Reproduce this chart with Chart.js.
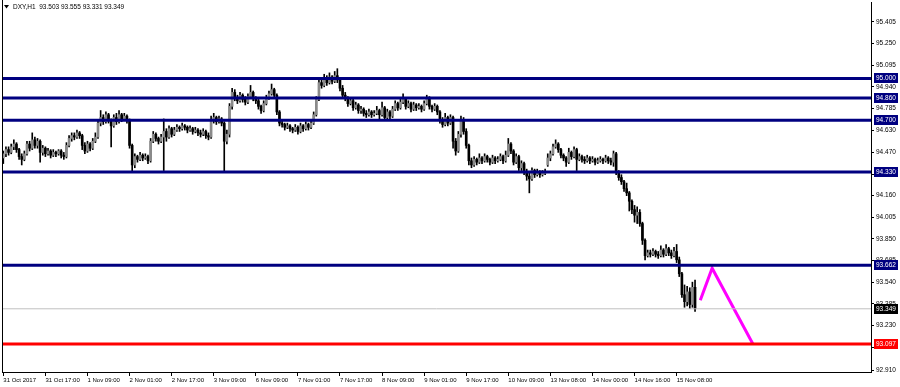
<!DOCTYPE html>
<html>
<head>
<meta charset="utf-8">
<title>DXY,H1</title>
<script src="https://cdn.jsdelivr.net/npm/chart.js@4.4.0/dist/chart.umd.min.js"></script>
<style>
html, body { margin: 0; padding: 0; background: #fff; }
canvas { display: block; }
</style>
</head>
<body>
<canvas id="dxyChart" width="900" height="387"></canvas>
<script>
// hourly candles, bar 0 = 31 Oct 2017
var openPrices = [
94.43,94.46,94.49,94.47,94.51,94.53,94.49,94.44,94.42,94.46,
94.53,94.50,94.56,94.52,94.55,94.47,94.50,94.46,94.48,94.45,
94.47,94.46,94.48,94.45,94.44,94.52,94.57,94.59,94.58,94.61,
94.59,94.52,94.48,94.53,94.50,94.55,94.58,94.68,94.72,94.69,
94.74,94.70,94.66,94.72,94.69,94.74,94.71,94.73,94.70,94.52,
94.38,94.44,94.42,94.45,94.43,94.44,94.41,94.55,94.60,94.57,
94.55,94.58,94.62,94.58,94.64,94.60,94.63,94.65,94.64,94.66,
94.65,94.63,94.64,94.62,94.63,94.61,94.60,94.62,94.59,94.58,
94.70,94.72,94.69,94.71,94.68,94.55,94.60,94.80,94.90,94.86,
94.84,94.88,94.85,94.83,94.87,94.90,94.86,94.84,94.80,94.77,
94.82,94.86,94.89,94.92,94.88,94.76,94.68,94.67,94.65,94.66,
94.64,94.63,94.65,94.62,94.66,94.64,94.67,94.65,94.68,94.74,
94.85,94.97,94.95,95.00,94.97,95.01,94.98,95.02,94.99,94.93,
94.88,94.86,94.82,94.84,94.79,94.81,94.77,94.78,94.75,94.74,
94.76,94.74,94.75,94.77,94.74,94.79,94.72,94.76,94.73,94.78,
94.82,94.79,94.83,94.85,94.80,94.82,94.78,94.81,94.79,94.80,
94.78,94.82,94.86,94.80,94.78,94.80,94.76,94.70,94.67,94.72,
94.68,94.72,94.55,94.48,94.60,94.70,94.62,94.52,94.41,94.38,
94.42,94.40,94.43,94.41,94.44,94.42,94.40,94.43,94.41,94.42,
94.44,94.41,94.45,94.53,94.48,94.40,94.44,94.36,94.39,94.33,
94.30,94.28,94.34,94.31,94.33,94.31,94.32,94.38,94.43,94.46,
94.51,94.53,94.49,94.45,94.43,94.40,94.47,94.44,94.49,94.42,
94.44,94.42,94.41,94.43,94.41,94.42,94.40,94.41,94.42,94.41,
94.43,94.41,94.40,94.46,94.33,94.29,94.26,94.21,94.18,94.12,
94.06,94.02,94.04,93.96,93.84,93.73,93.75,93.74,93.76,93.74,
93.73,93.77,93.74,93.78,93.75,93.73,93.76,93.70,93.60,93.45,
93.40,93.47,93.38,93.503
];
var highPrices = [
94.48,94.51,94.51,94.53,94.56,94.54,94.50,94.46,94.48,94.55,
94.55,94.61,94.58,94.57,94.56,94.52,94.51,94.50,94.49,94.49,
94.48,94.49,94.49,94.47,94.54,94.59,94.61,94.61,94.63,94.62,
94.60,94.54,94.55,94.54,94.57,94.61,94.70,94.77,94.74,94.76,
94.75,94.71,94.74,94.75,94.77,94.75,94.75,94.74,94.71,94.53,
94.46,94.45,94.47,94.46,94.46,94.45,94.57,94.62,94.61,94.58,
94.60,94.71,94.64,94.66,94.65,94.65,94.67,94.66,94.68,94.67,
94.66,94.66,94.65,94.65,94.64,94.63,94.64,94.63,94.61,94.73,
94.75,94.73,94.73,94.72,94.69,94.63,94.82,94.93,94.92,94.88,
94.90,94.89,94.87,94.89,94.95,94.91,94.87,94.85,94.81,94.84,
94.88,94.91,94.96,94.93,94.89,94.77,94.70,94.68,94.68,94.67,
94.65,94.67,94.66,94.68,94.67,94.69,94.68,94.70,94.76,94.87,
94.99,94.99,95.03,95.02,95.04,95.02,95.05,95.07,95.00,94.95,
94.90,94.87,94.86,94.85,94.83,94.82,94.80,94.79,94.77,94.78,
94.77,94.77,94.80,94.78,94.83,94.80,94.78,94.77,94.80,94.84,
94.83,94.85,94.89,94.86,94.84,94.83,94.83,94.82,94.82,94.81,
94.84,94.88,94.87,94.81,94.82,94.81,94.77,94.72,94.75,94.73,
94.74,94.73,94.57,94.62,94.73,94.72,94.64,94.53,94.43,94.44,
94.43,94.46,94.44,94.46,94.45,94.43,94.45,94.44,94.44,94.46,
94.45,94.48,94.57,94.54,94.49,94.46,94.45,94.41,94.40,94.35,
94.32,94.36,94.35,94.35,94.34,94.34,94.35,94.46,94.48,94.53,
94.56,94.54,94.50,94.46,94.44,94.50,94.48,94.51,94.50,94.46,
94.45,94.44,94.45,94.44,94.44,94.43,94.43,94.44,94.43,94.45,
94.44,94.43,94.48,94.47,94.34,94.31,94.27,94.25,94.19,94.13,
94.09,94.08,94.06,93.97,93.85,93.77,93.77,93.78,93.77,93.76,
93.80,93.78,93.81,93.79,93.77,93.79,93.81,93.72,93.61,93.52,
93.51,93.50,93.54,93.555
];
var lowPrices = [
94.39,94.44,94.45,94.46,94.49,94.47,94.42,94.38,94.41,94.45,
94.48,94.49,94.50,94.50,94.40,94.45,94.44,94.45,94.43,94.44,
94.44,94.45,94.43,94.42,94.43,94.51,94.55,94.56,94.57,94.57,
94.49,94.46,94.47,94.48,94.49,94.54,94.57,94.66,94.67,94.68,
94.68,94.51,94.65,94.67,94.68,94.69,94.70,94.68,94.50,94.33,
94.36,94.40,94.41,94.41,94.42,94.39,94.40,94.54,94.55,94.53,
94.54,94.34,94.55,94.57,94.58,94.59,94.62,94.62,94.63,94.63,
94.61,94.62,94.60,94.61,94.59,94.58,94.59,94.57,94.56,94.57,
94.68,94.67,94.68,94.66,94.33,94.53,94.58,94.78,94.84,94.82,
94.83,94.83,94.81,94.82,94.86,94.84,94.82,94.78,94.75,94.76,
94.81,94.85,94.88,94.86,94.74,94.66,94.65,94.63,94.64,94.62,
94.61,94.62,94.60,94.61,94.62,94.63,94.63,94.64,94.67,94.73,
94.84,94.93,94.94,94.95,94.96,94.96,94.97,94.97,94.91,94.86,
94.84,94.80,94.81,94.77,94.78,94.75,94.75,94.73,94.72,94.73,
94.72,94.73,94.74,94.71,94.73,94.70,94.71,94.71,94.72,94.77,
94.77,94.78,94.82,94.78,94.79,94.76,94.77,94.77,94.78,94.76,
94.77,94.81,94.78,94.76,94.77,94.74,94.68,94.65,94.66,94.66,
94.67,94.50,94.45,94.47,94.58,94.60,94.50,94.38,94.36,94.37,
94.38,94.39,94.39,94.40,94.40,94.38,94.39,94.39,94.40,94.41,
94.39,94.40,94.44,94.46,94.38,94.39,94.34,94.34,94.31,94.27,
94.18,94.27,94.29,94.30,94.29,94.30,94.31,94.37,94.41,94.45,
94.50,94.47,94.43,94.41,94.37,94.39,94.42,94.43,94.34,94.41,
94.40,94.39,94.40,94.39,94.40,94.38,94.39,94.40,94.39,94.40,
94.39,94.38,94.37,94.31,94.27,94.24,94.19,94.16,94.05,94.03,
93.97,93.96,93.94,93.81,93.70,93.72,93.72,93.73,93.72,93.71,
93.72,93.72,93.73,93.73,93.71,93.72,93.68,93.58,93.43,93.36,
93.37,93.35,93.36,93.331
];
var closePrices = [
94.46,94.49,94.47,94.51,94.53,94.49,94.44,94.42,94.46,94.53,
94.50,94.56,94.52,94.55,94.47,94.50,94.46,94.48,94.45,94.47,
94.46,94.48,94.45,94.44,94.52,94.57,94.59,94.58,94.61,94.59,
94.52,94.48,94.53,94.50,94.55,94.58,94.68,94.72,94.69,94.74,
94.70,94.66,94.72,94.69,94.74,94.71,94.73,94.70,94.52,94.38,
94.44,94.42,94.45,94.43,94.44,94.41,94.55,94.60,94.57,94.55,
94.58,94.62,94.58,94.64,94.60,94.63,94.65,94.64,94.66,94.65,
94.63,94.64,94.62,94.63,94.61,94.60,94.62,94.59,94.58,94.70,
94.72,94.69,94.71,94.68,94.55,94.60,94.80,94.90,94.86,94.84,
94.88,94.85,94.83,94.87,94.90,94.86,94.84,94.80,94.77,94.82,
94.86,94.89,94.92,94.88,94.76,94.68,94.67,94.65,94.66,94.64,
94.63,94.65,94.62,94.66,94.64,94.67,94.65,94.68,94.74,94.85,
94.97,94.95,95.00,94.97,95.01,94.98,95.02,94.99,94.93,94.88,
94.86,94.82,94.84,94.79,94.81,94.77,94.78,94.75,94.74,94.76,
94.74,94.75,94.77,94.74,94.79,94.72,94.76,94.73,94.78,94.82,
94.79,94.83,94.85,94.80,94.82,94.78,94.81,94.79,94.80,94.78,
94.82,94.86,94.80,94.78,94.80,94.76,94.70,94.67,94.72,94.68,
94.72,94.55,94.48,94.60,94.70,94.62,94.52,94.41,94.38,94.42,
94.40,94.43,94.41,94.44,94.42,94.40,94.43,94.41,94.42,94.44,
94.41,94.45,94.53,94.48,94.40,94.44,94.36,94.39,94.33,94.30,
94.28,94.34,94.31,94.33,94.31,94.32,94.33,94.43,94.46,94.51,
94.53,94.49,94.45,94.43,94.40,94.47,94.44,94.49,94.42,94.44,
94.42,94.41,94.43,94.41,94.42,94.40,94.41,94.42,94.41,94.43,
94.41,94.40,94.46,94.33,94.29,94.26,94.21,94.18,94.12,94.06,
94.02,94.04,93.96,93.84,93.73,93.75,93.74,93.76,93.74,93.73,
93.77,93.74,93.78,93.75,93.73,93.76,93.70,93.60,93.45,93.40,
93.47,93.38,93.503,93.349
];

var xTickBars = [0,16,32,48,64,80,96,112,128,144,160,176,192,208,224,240,256];
var xTickLabels = ['31 Oct 2017','31 Oct 17:00','1 Nov 09:00','2 Nov 01:00','2 Nov 17:00','3 Nov 09:00',
  '6 Nov 09:00','7 Nov 01:00','7 Nov 17:00','8 Nov 09:00','9 Nov 01:00','9 Nov 17:00','10 Nov 09:00',
  '13 Nov 08:00','14 Nov 00:00','14 Nov 16:00','15 Nov 08:00'];
var yTickValues = [95.405,95.250,95.095,94.940,94.785,94.630,94.470,94.315,94.160,94.005,
  93.850,93.695,93.540,93.385,93.230,93.075,92.910];

var levelPrices = [95.000, 94.860, 94.700, 94.330, 93.662];
var targetPrice = 93.097;
var lastPrice = 93.349;
var arrowBars = [265, 269.5, 285];
var arrowPrices = [93.41, 93.64, 93.097];
var headerText = 'DXY,H1  93.503 93.555 93.331 93.349';

var X_MIN = -0.5, X_MAX = 329.9;
var FONT = 'Liberation Sans';

var wickData = [], bodyData = [], bodyColors = [];
for (var i = 0; i < closePrices.length; i++) {
  wickData.push({x: i, y: [lowPrices[i], highPrices[i]]});
  bodyData.push({x: i, y: [openPrices[i], closePrices[i]]});
  bodyColors.push(closePrices[i] >= openPrices[i] ? '#8a8a8a' : '#000000');
}

function hLine(value, color, width) {
  return {
    type: 'line',
    data: [{x: X_MIN, y: value}, {x: X_MAX, y: value}],
    borderColor: color,
    borderWidth: width,
    pointRadius: 0,
    order: 0
  };
}

var datasets = [];
levelPrices.forEach(function(v) { datasets.push(hLine(v, '#000080', 3)); });
datasets.push(hLine(targetPrice, '#ff0000', 3));
datasets.push(hLine(lastPrice, '#c0c0c0', 1));
datasets.push({
  type: 'line',
  data: arrowBars.map(function(b, k) { return {x: b, y: arrowPrices[k]}; }),
  borderColor: '#ff00ff',
  borderWidth: 3,
  pointRadius: 0,
  tension: 0,
  order: 0
});
datasets.push({
  type: 'bar',
  data: bodyData,
  backgroundColor: bodyColors,
  barThickness: 2,
  minBarLength: 1,
  grouped: false,
  order: 1
});
datasets.push({
  type: 'bar',
  data: wickData,
  backgroundColor: '#000000',
  barThickness: 1,
  grouped: false,
  order: 2
});

var overlay = {
  id: 'overlay',
  afterDraw: function(chart) {
    var ctx = chart.ctx, area = chart.chartArea, yScale = chart.scales.y;
    ctx.save();
    ctx.strokeStyle = '#000';
    ctx.lineWidth = 1;
    ctx.beginPath();
    ctx.moveTo(area.left + 0.5, 0);
    ctx.lineTo(area.left + 0.5, area.bottom);
    ctx.stroke();

    ctx.font = '6.5px "' + FONT + '"';
    ctx.textBaseline = 'middle';
    ctx.textAlign = 'left';
    function tag(value, bg) {
      var y = Math.round(yScale.getPixelForValue(value));
      ctx.fillStyle = bg;
      ctx.fillRect(area.right + 3, y - 5, 24, 10);
      ctx.fillStyle = '#ffffff';
      ctx.fillText(value.toFixed(3), area.right + 5, y);
    }
    levelPrices.forEach(function(v) { tag(v, '#000080'); });
    tag(targetPrice, '#ff0000');
    tag(lastPrice, '#000000');

    // header
    ctx.fillStyle = '#000';
    ctx.beginPath();
    ctx.moveTo(4, 5); ctx.lineTo(9, 5); ctx.lineTo(6.5, 8.5); ctx.closePath();
    ctx.fill();
    ctx.fillText(headerText, 13, 7);
    ctx.restore();
  }
};

new Chart(document.getElementById('dxyChart'), {
  type: 'bar',
  data: {datasets: datasets},
  options: {
    responsive: false,
    animation: false,
    devicePixelRatio: 1,
    layout: {padding: {left: 2, top: 2, right: 0, bottom: 0}},
    plugins: {legend: {display: false}, tooltip: {enabled: false}},
    scales: {
      x: {
        type: 'linear',
        min: X_MIN,
        max: X_MAX,
        offset: false,
        afterBuildTicks: function(s) { s.ticks = xTickBars.map(function(v) { return {value: v}; }); },
        afterFit: function(s) { s.height = 15; s.paddingLeft = 0; s.paddingRight = 0; },
        ticks: {
          autoSkip: false, maxRotation: 0, align: 'start', padding: 1, color: '#000',
          font: {family: FONT, size: 6},
          callback: function(v, idx) { return xTickLabels[idx]; }
        },
        grid: {drawOnChartArea: false, offset: false, tickLength: 4, color: '#000'},
        border: {display: true, color: '#000'}
      },
      y: {
        position: 'right',
        min: 92.896,
        max: 95.548,
        afterBuildTicks: function(s) { s.ticks = yTickValues.map(function(v) { return {value: v}; }); },
        afterFit: function(s) { s.width = 29; s.paddingTop = 0; s.paddingBottom = 0; },
        ticks: {
          padding: 2, color: '#000', font: {family: FONT, size: 6.5},
          callback: function(v) { return v.toFixed(3); }
        },
        grid: {drawOnChartArea: false, tickLength: 3, color: '#000'},
        border: {display: true, color: '#000'}
      }
    }
  },
  plugins: [overlay]
});
</script>
</body>
</html>
